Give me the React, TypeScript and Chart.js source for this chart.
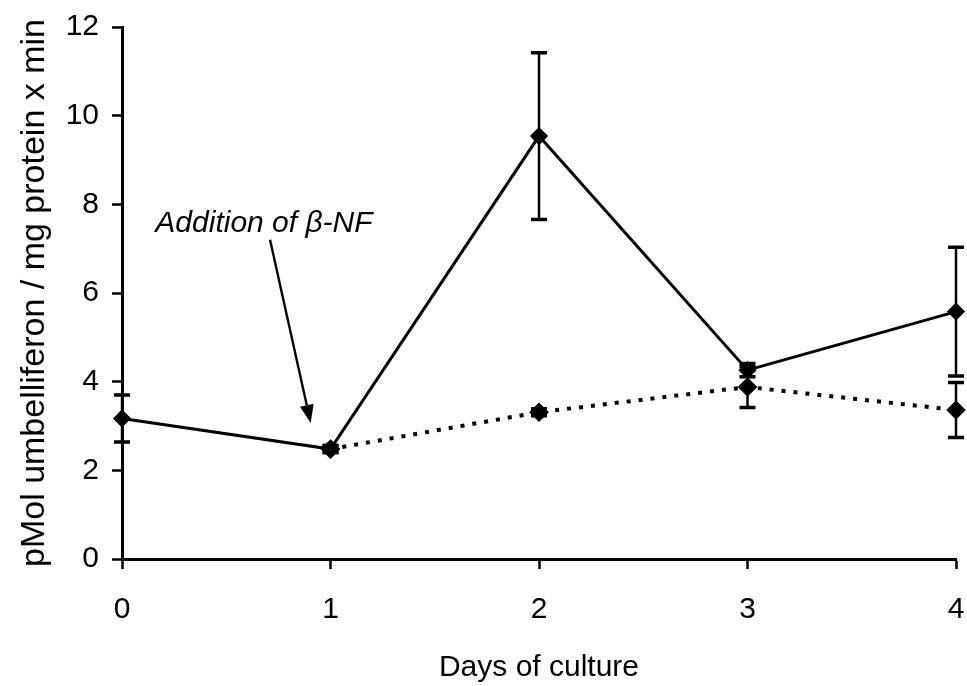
import React, { useEffect, useRef } from "react";
import { Chart, registerables } from "chart.js";

Chart.register(...registerables);

// ---- data ----
const days = [0, 1, 2, 3, 4];
const yTickValues = [0, 2, 4, 6, 8, 10, 12];
const solidValues = [3.17, 2.48, 9.54, 4.26, 5.58];
const solidErrors = [0.53, 0.08, 1.88, 0.15, 1.45];
const dottedDays = [1, 2, 3, 4];
const dottedValues = [2.48, 3.31, 3.88, 3.36];
const dottedErrors = [0.08, 0.08, 0.46, 0.62];
const xTitle = "Days of culture";
const yTitle = "pMol umbelliferon / mg protein x min";
const annotationText = "Addition of \u03B2-NF";
const annotationAnchor = { x: 0.16, y: 7.38 };
const arrowFrom = { x: 0.71, y: 7.2 };
const arrowTo = { x: 0.905, y: 3.07 };

const FONT = "'Liberation Sans', Arial, Helvetica, sans-serif";

const errorBarPlugin = {
  id: "errorBars",
  afterDatasetsDraw(chart: any) {
    const { ctx, scales } = chart;
    const xs = scales.x;
    const ys = scales.y;
    chart.data.datasets.forEach((ds: any) => {
      const errs = ds.errors as number[] | undefined;
      if (!errs) return;
      ctx.save();
      ctx.strokeStyle = "#000";
      ds.data.forEach((pt: any, j: number) => {
        const e = errs[j];
        if (pt == null || e == null) return;
        const px = xs.getPixelForValue(pt.x);
        const top = ys.getPixelForValue(pt.y + e);
        const bot = ys.getPixelForValue(pt.y - e);
        ctx.lineWidth = 2.5;
        ctx.beginPath();
        ctx.moveTo(px, top);
        ctx.lineTo(px, bot);
        ctx.stroke();
        ctx.lineWidth = 3.5;
        ctx.beginPath();
        ctx.moveTo(px - 8, top);
        ctx.lineTo(px + 8, top);
        ctx.moveTo(px - 8, bot);
        ctx.lineTo(px + 8, bot);
        ctx.stroke();
      });
      ctx.restore();
    });
  },
};

const annotationPlugin = {
  id: "annotationArrow",
  afterDraw(chart: any) {
    const { ctx, scales } = chart;
    const xs = scales.x;
    const ys = scales.y;
    ctx.save();
    ctx.fillStyle = "#000";
    ctx.strokeStyle = "#000";
    ctx.font = `italic 30px ${FONT}`;
    ctx.textAlign = "left";
    ctx.textBaseline = "alphabetic";
    ctx.fillText(
      annotationText,
      xs.getPixelForValue(annotationAnchor.x),
      ys.getPixelForValue(annotationAnchor.y)
    );
    const x1 = xs.getPixelForValue(arrowFrom.x);
    const y1 = ys.getPixelForValue(arrowFrom.y);
    const x2 = xs.getPixelForValue(arrowTo.x);
    const y2 = ys.getPixelForValue(arrowTo.y);
    const ang = Math.atan2(y2 - y1, x2 - x1);
    const headLen = 18;
    const headW = 7;
    const bx = x2 - headLen * Math.cos(ang);
    const by = y2 - headLen * Math.sin(ang);
    ctx.lineWidth = 2.4;
    ctx.beginPath();
    ctx.moveTo(x1, y1);
    ctx.lineTo(bx, by);
    ctx.stroke();
    ctx.beginPath();
    ctx.moveTo(x2, y2);
    ctx.lineTo(bx + headW * Math.sin(ang), by - headW * Math.cos(ang));
    ctx.lineTo(bx - headW * Math.sin(ang), by + headW * Math.cos(ang));
    ctx.closePath();
    ctx.fill();
    ctx.restore();
  },
};

export default function App() {
  const ref = useRef<HTMLCanvasElement | null>(null);

  useEffect(() => {
    if (!ref.current) return;
    const chart = new Chart(ref.current, {
      type: "line",
      data: {
        datasets: [
          {
            label: "control",
            data: days.map((d, i) => ({ x: d, y: solidValues[i] })),
            errors: solidErrors,
            borderColor: "#000",
            backgroundColor: "#000",
            borderWidth: 3,
            pointStyle: "rectRot",
            pointRadius: 7,
            pointBackgroundColor: "#000",
            pointBorderColor: "#000",
            tension: 0,
            clip: false,
          } as any,
          {
            label: "beta-NF",
            data: dottedDays.map((d, i) => ({ x: d, y: dottedValues[i] })),
            errors: dottedErrors,
            borderColor: "#000",
            backgroundColor: "#000",
            borderWidth: 4,
            borderDash: [4, 8],
            pointStyle: "rectRot",
            pointRadius: 7,
            pointBackgroundColor: "#000",
            pointBorderColor: "#000",
            tension: 0,
            clip: false,
          } as any,
        ],
      },
      options: {
        animation: false,
        responsive: false,
        maintainAspectRatio: false,
        layout: { padding: { top: 27, right: 2, bottom: 0, left: 0 } },
        plugins: {
          legend: { display: false },
          tooltip: { enabled: false },
        },
        scales: {
          x: {
            type: "linear",
            min: 0,
            max: 4,
            afterBuildTicks: (s: any) => {
              s.ticks = days.map((v) => ({ value: v }));
            },
            afterFit: (s: any) => {
              s.height = 127;
              s.paddingLeft = 0;
              s.paddingRight = 0;
            },
            ticks: {
              color: "#000",
              font: { family: FONT, size: 30 },
              padding: 23,
              maxRotation: 0,
              callback: (v: any) => String(v),
            },
            grid: {
              drawOnChartArea: false,
              drawTicks: true,
              tickLength: 10,
              tickWidth: 2.5,
              tickColor: "#000",
            },
            border: { display: true, color: "#000", width: 3 },
            title: {
              display: true,
              text: xTitle,
              color: "#000",
              font: { family: FONT, size: 30 },
              padding: { top: 0, bottom: 0 },
            },
          },
          y: {
            type: "linear",
            min: 0,
            max: 12,
            afterBuildTicks: (s: any) => {
              s.ticks = yTickValues.map((v) => ({ value: v }));
            },
            afterFit: (s: any) => {
              s.width = 122;
              s.paddingTop = 0;
              s.paddingBottom = 0;
            },
            ticks: {
              color: "#000",
              font: { family: FONT, size: 30 },
              padding: 13,
              callback: (v: any) => String(v),
            },
            grid: {
              drawOnChartArea: false,
              drawTicks: true,
              tickLength: 10,
              tickWidth: 2.5,
              tickColor: "#000",
            },
            border: { display: true, color: "#000", width: 3 },
            title: {
              display: true,
              text: yTitle,
              color: "#000",
              font: { family: FONT, size: 34 },
              padding: { top: 14, bottom: 0 },
            },
          },
        },
      },
      plugins: [errorBarPlugin, annotationPlugin],
    } as any);
    return () => chart.destroy();
  }, []);

  return (
    <div
      style={{
        position: "fixed",
        left: 0,
        top: 0,
        width: 967,
        height: 686,
        background: "#fff",
      }}
    >
      <canvas ref={ref} width={967} height={686} style={{ display: "block" }} />
    </div>
  );
}
